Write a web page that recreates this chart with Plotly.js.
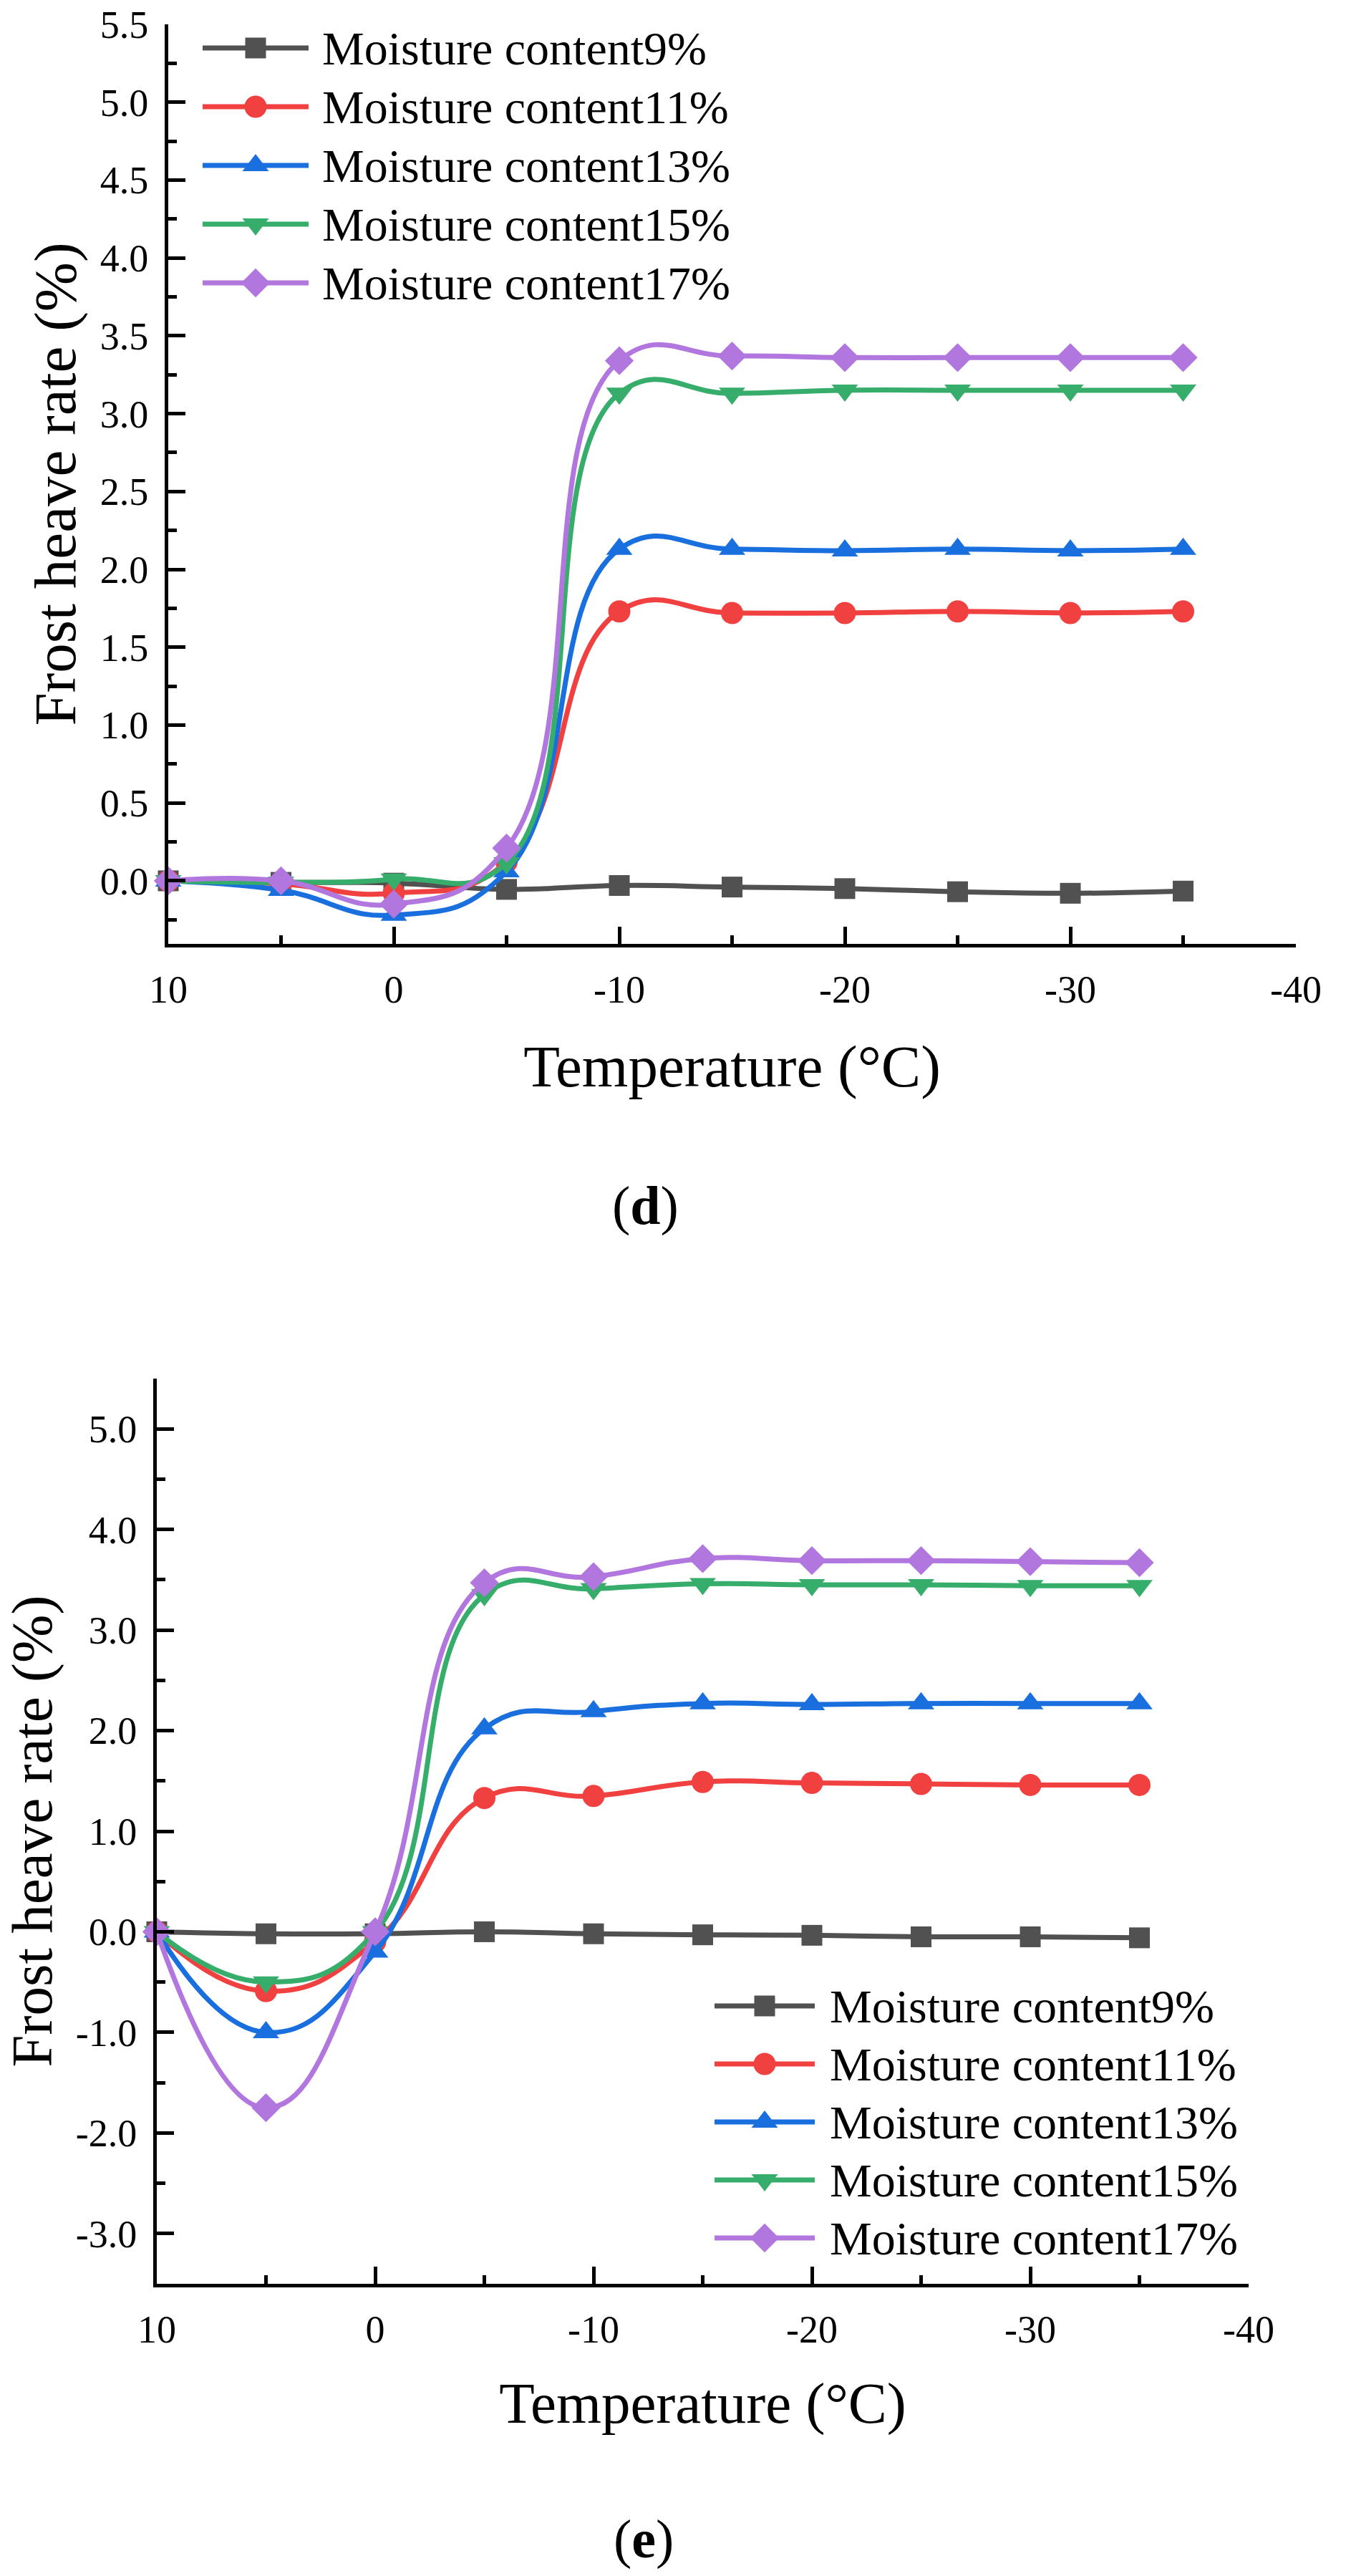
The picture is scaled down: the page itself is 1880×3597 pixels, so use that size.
<!DOCTYPE html>
<html>
<head>
<meta charset="utf-8">
<script src="https://cdn.plot.ly/plotly-3.0.1.min.js"></script>
<style>html,body{margin:0;padding:0;background:#fff;}#chart{width:1880px;height:3597px;}</style>
</head>
<body>
<div id="chart"></div>
<script>
// ---------- data ----------
const temperatures = [10, 5, 0, -5, -10, -15, -20, -25, -30, -35];
const seriesNames = ['Moisture content9%', 'Moisture content11%', 'Moisture content13%', 'Moisture content15%', 'Moisture content17%'];

// panel (d)
const d_mc9  = [0, -0.01, -0.015, -0.055, -0.03, -0.04, -0.05, -0.07, -0.08, -0.066];
const d_mc11 = [0, -0.02, -0.08, 0.12, 1.73, 1.72, 1.72, 1.73, 1.72, 1.73];
const d_mc13 = [0, -0.06, -0.22, 0.06, 2.13, 2.13, 2.12, 2.13, 2.12, 2.13];
const d_mc15 = [0, -0.01, 0.01, 0.115, 3.13, 3.13, 3.15, 3.15, 3.15, 3.15];
const d_mc17 = [0, 0, -0.15, 0.21, 3.34, 3.37, 3.36, 3.36, 3.36, 3.36];

// panel (e)
const e_mc9  = [0, -0.02, -0.02, 0.0, -0.02, -0.03, -0.035, -0.05, -0.05, -0.06];
const e_mc11 = [0, -0.59, -0.1, 1.33, 1.35, 1.49, 1.48, 1.47, 1.46, 1.46];
const e_mc13 = [0, -1.0, -0.2, 2.02, 2.19, 2.27, 2.26, 2.27, 2.27, 2.27];
const e_mc15 = [0, -0.5, 0.0, 3.35, 3.41, 3.46, 3.45, 3.45, 3.44, 3.44];
const e_mc17 = [0, -1.75, 0.0, 3.47, 3.53, 3.71, 3.69, 3.69, 3.68, 3.67];

// tick labels
const xTickVals = [10, 0, -10, -20, -30, -40];
const xTickText = ['10', '0', '-10', '-20', '-30', '-40'];
const dTickVals = [0, 0.5, 1, 1.5, 2, 2.5, 3, 3.5, 4, 4.5, 5, 5.5];
const dTickText = ['0.0', '0.5', '1.0', '1.5', '2.0', '2.5', '3.0', '3.5', '4.0', '4.5', '5.0', '5.5'];
const eTickVals = [-3, -2, -1, 0, 1, 2, 3, 4, 5];
const eTickText = ['-3.0', '-2.0', '-1.0', '0.0', '1.0', '2.0', '3.0', '4.0', '5.0'];

const xTitle = 'Temperature (°C)';
const yTitle = 'Frost heave rate (%)';

// ---------- styles ----------
const colors  = ['#515151', '#F14040', '#1A6FDF', '#37AD6B', '#B177DE'];
const symbols = ['square', 'circle', 'triangle-up', 'triangle-down', 'diamond'];
const msizes  = [29, 31, 32, 32, 31];
const LW = 7;
const FONT = 'Liberation Serif, Times New Roman, serif';
const W = 1880, H = 3597;

const dSeries = [d_mc9, d_mc11, d_mc13, d_mc15, d_mc17];
const eSeries = [e_mc9, e_mc11, e_mc13, e_mc15, e_mc17];

const traces = [];
function addPanel(series, xa, ya) {
  series.forEach((ys, i) => {
    traces.push({
      x: temperatures, y: ys, xaxis: xa, yaxis: ya,
      type: 'scatter', mode: 'lines+markers', name: seriesNames[i],
      showlegend: false, cliponaxis: false,
      line: {color: colors[i], width: LW, shape: 'spline', smoothing: 1.3},
      marker: {color: colors[i], symbol: symbols[i], size: msizes[i]}
    });
  });
}
addPanel(dSeries, 'x', 'y');
addPanel(eSeries, 'x2', 'y2');

// custom legends: x unit = one key-line length, y unit = one row
const annotations = [];
function addLegend(xa, ya, textX, fsize) {
  seriesNames.forEach((nm, i) => {
    traces.push({x: [0, 1], y: [i, i], xaxis: xa, yaxis: ya, type: 'scatter', mode: 'lines',
      showlegend: false, cliponaxis: false, hoverinfo: 'skip',
      line: {color: colors[i], width: LW}});
    traces.push({x: [0.5], y: [i], xaxis: xa, yaxis: ya, type: 'scatter', mode: 'markers',
      showlegend: false, cliponaxis: false, hoverinfo: 'skip',
      marker: {color: colors[i], symbol: symbols[i], size: msizes[i]}});
    annotations.push({xref: xa, yref: ya, x: textX, y: i, text: nm, showarrow: false,
      xanchor: 'left', yanchor: 'middle', font: {family: FONT, size: fsize, color: '#000'}});
  });
}
addLegend('x3', 'y3', 1.115, 66);
addLegend('x4', 'y4', 1.136, 66);

// captions
annotations.push({xref: 'paper', yref: 'paper', x: 901 / W, y: 1 - 1683 / H, text: '(<b>d</b>)',
  showarrow: false, xanchor: 'center', yanchor: 'middle', font: {family: FONT, size: 76, color: '#000'}});
annotations.push({xref: 'paper', yref: 'paper', x: 899 / W, y: 1 - 3545 / H, text: '(<b>e</b>)',
  showarrow: false, xanchor: 'center', yanchor: 'middle', font: {family: FONT, size: 76, color: '#000'}});

function xAxis(domain, anchor, fs, tfs, standoff) {
  return {
    domain: domain, anchor: anchor, range: [10, -40],
    tickmode: 'array', tickvals: xTickVals, ticktext: xTickText,
    ticks: 'inside', ticklen: 24, tickwidth: 5, tickcolor: '#000',
    minor: {tickmode: 'linear', tick0: 0, dtick: 5, ticks: 'inside', ticklen: 12, tickwidth: 5, tickcolor: '#000'},
    showline: true, linewidth: 5, linecolor: '#000', showgrid: false, zeroline: false,
    tickfont: {family: FONT, size: fs, color: '#000'}, ticklabelstandoff: 12,
    title: {text: xTitle, font: {family: FONT, size: tfs, color: '#000'}, standoff: standoff},
    automargin: false
  };
}
function yAxis(domain, anchor, range, tv, tt, minorD, fs, tfs, standoff) {
  return {
    domain: domain, anchor: anchor, range: range,
    tickmode: 'array', tickvals: tv, ticktext: tt,
    ticks: 'inside', ticklen: 24, tickwidth: 5, tickcolor: '#000',
    minor: {tickmode: 'linear', tick0: 0, dtick: minorD, ticks: 'inside', ticklen: 12, tickwidth: 5, tickcolor: '#000'},
    showline: true, linewidth: 5, linecolor: '#000', showgrid: false, zeroline: false,
    tickfont: {family: FONT, size: fs, color: '#000'}, ticklabelstandoff: 12,
    title: {text: yTitle, font: {family: FONT, size: tfs, color: '#000'}, standoff: standoff},
    automargin: false
  };
}
const hidden = (domain, anchor, range) => ({domain: domain, anchor: anchor, range: range, visible: false, fixedrange: true});

// legend boxes (pixel geometry of the key area)
const LG1 = {x0: 283, unit: 148, rowTop: 67, rowGap: 82};
const LG2 = {x0: 998, unit: 140, rowTop: 2801, rowGap: 81};
const legX = g => [g.x0 / W, (g.x0 + g.unit * 5) / W];
const legY = g => [1 - (g.rowTop + g.rowGap * 4.5) / H, 1 - (g.rowTop - g.rowGap * 0.5) / H];

const layout = {
  width: W, height: H,
  margin: {l: 0, r: 0, t: 0, b: 0},
  paper_bgcolor: '#fff', plot_bgcolor: 'rgba(0,0,0,0)',
  showlegend: false,
  font: {family: FONT, color: '#000'},
  xaxis:  xAxis([235 / W, 1810 / W], 'y', 54, 83, 50),
  yaxis:  yAxis([1 - 1318 / H, 1 - 34 / H], 'x', [-0.405, 5.5], dTickVals, dTickText, 0.25, 54, 83, 8),
  xaxis2: xAxis([219 / W, 1744 / W], 'y2', 54, 81, 46),
  yaxis2: yAxis([1 - 3189 / H, 1 - 1925 / H], 'x2', [-3.5, 5.5], eTickVals, eTickText, 0.5, 54, 81, 8),
  xaxis3: hidden(legX(LG1), 'y3', [0, 5]),
  yaxis3: hidden(legY(LG1), 'x3', [4.5, -0.5]),
  xaxis4: hidden(legX(LG2), 'y4', [0, 5]),
  yaxis4: hidden(legY(LG2), 'x4', [4.5, -0.5]),
  annotations: annotations
};

Plotly.newPlot('chart', traces, layout, {staticPlot: true, displayModeBar: false});
</script>
</body>
</html>
